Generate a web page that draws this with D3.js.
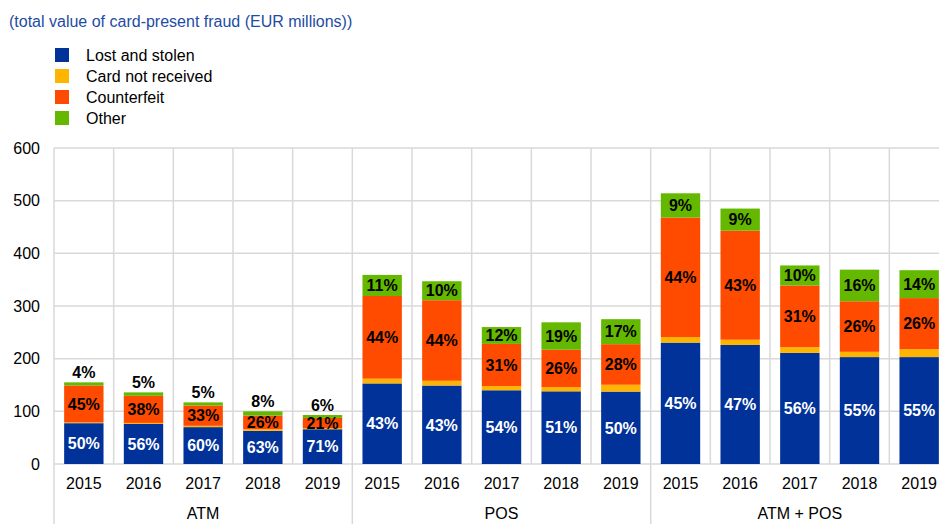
<!DOCTYPE html>
<script src="https://cdn.jsdelivr.net/npm/d3@7"></script>
<html>
    <head>
        <style>
            body { margin: 0; background: #fff; }
            text { font-family: Arial, "Liberation Sans", sans-serif; }
        </style>
    </head>
    <body>
        <div id="chart-div"></div>
        <script>
            // chart data (EUR millions)
            const groups = ["ATM", "POS", "ATM + POS"];
            const years = ["2015", "2016", "2017", "2018", "2019"];
            const seriesNames = ["Lost and stolen", "Card not received", "Counterfeit", "Other"];
            const seriesColors = ["#003299", "#ffb400", "#ff4b00", "#65b800"];

            const lostStolen = [77.5, 76, 70, 63, 66, 153, 149, 140, 138, 137.5, 230.5, 226, 211, 203, 203];
            const cardNotReceived = [1.5, 2, 2.5, 3, 2, 9, 9, 8, 8, 13, 10.5, 10, 11, 10, 15];
            const counterfeit = [70, 51.5, 38.5, 26, 19.5, 157, 153, 80, 71, 77, 227, 207, 117, 96, 97];
            const other = [6, 6.5, 6, 8, 5.5, 40, 36, 32, 52, 47.5, 46, 42, 38, 60, 53];

            const yTicks = [0, 100, 200, 300, 400, 500, 600];

            const width = 939, height = 531;
            const plot = { left: 54, right: 949, top: 148, bottom: 464 };

            const svg = d3.select("#chart-div")
                .append("svg")
                .attr("width", width)
                .attr("height", height);

            // title
            svg.append("text")
                .attr("x", 9)
                .attr("y", 27)
                .attr("font-size", 16)
                .attr("fill", "#1d4ca4")
                .text("(total value of card-present fraud (EUR millions))");

            // legend
            const legend = svg.append("g");
            seriesNames.forEach(function (name, i) {
                legend.append("rect")
                    .attr("x", 55)
                    .attr("y", 48 + i * 21)
                    .attr("width", 14)
                    .attr("height", 14)
                    .attr("fill", seriesColors[i]);
                legend.append("text")
                    .attr("x", 86)
                    .attr("y", 55 + i * 21)
                    .attr("dy", "0.36em")
                    .attr("font-size", 16)
                    .attr("fill", "#000")
                    .text(name);
            });

            // one slot per group/year
            const slots = [];
            groups.forEach(function (g) {
                years.forEach(function (y) { slots.push(g + "|" + y); });
            });

            const data = slots.map(function (s, i) {
                return {
                    key: s,
                    year: s.split("|")[1],
                    values: [lostStolen[i], cardNotReceived[i], counterfeit[i], other[i]]
                };
            });

            const xSlot = d3.scaleBand().domain(slots).range([plot.left, plot.right]);
            const x = d3.scaleBand().domain(slots).range([plot.left, plot.right])
                .paddingInner(0.34).paddingOuter(0.17);
            const y = d3.scaleLinear().domain([0, 600]).range([plot.bottom, plot.top]);

            const gridColor = "#d9d9d9";

            // horizontal grid
            svg.append("g").selectAll("line")
                .data(yTicks)
                .enter()
                .append("line")
                .attr("x1", plot.left)
                .attr("x2", plot.right)
                .attr("y1", function (d) { return y(d); })
                .attr("y2", function (d) { return y(d); })
                .attr("stroke", gridColor)
                .attr("stroke-width", 1.5);

            // vertical grid (year separators stop at the axis, group separators go down)
            const sepX = d3.range(slots.length + 1).map(function (i) { return plot.left + i * xSlot.step(); });
            svg.append("g").selectAll("line")
                .data(sepX)
                .enter()
                .append("line")
                .attr("x1", function (d) { return d; })
                .attr("x2", function (d) { return d; })
                .attr("y1", plot.top)
                .attr("y2", function (d, i) { return i % years.length === 0 ? 524 : plot.bottom; })
                .attr("stroke", gridColor)
                .attr("stroke-width", 1.5);

            // y axis labels
            svg.append("g").selectAll("text")
                .data(yTicks)
                .enter()
                .append("text")
                .attr("x", 40)
                .attr("y", function (d) { return y(d); })
                .attr("dy", "0.36em")
                .attr("text-anchor", "end")
                .attr("font-size", 16)
                .attr("fill", "#000")
                .text(function (d) { return d; });

            // stacked bars
            const stack = d3.stack().keys([0, 1, 2, 3]).value(function (d, k) { return d.values[k]; });
            const layers = stack(data);

            svg.append("g").selectAll("g")
                .data(layers)
                .enter()
                .append("g")
                .attr("fill", function (d, i) { return seriesColors[i]; })
                .selectAll("rect")
                .data(function (d) { return d; })
                .enter()
                .append("rect")
                .attr("x", function (d) { return x(d.data.key); })
                .attr("y", function (d) { return y(d[1]); })
                .attr("width", x.bandwidth())
                .attr("height", function (d) { return y(d[0]) - y(d[1]); });

            // percentage labels (lost, counterfeit, other)
            const labels = svg.append("g")
                .attr("font-size", 16)
                .attr("font-weight", "bold")
                .attr("text-anchor", "middle");

            [0, 2, 3].forEach(function (k) {
                layers[k].forEach(function (seg) {
                    const total = d3.sum(seg.data.values);
                    const pct = Math.round(seg.data.values[k] / total * 100) + "%";
                    const cx = x(seg.data.key) + x.bandwidth() / 2;
                    const h = y(seg[0]) - y(seg[1]);
                    let cy = (y(seg[0]) + y(seg[1])) / 2;
                    if (k === 3 && h < 16) cy = y(total) - 10;
                    labels.append("text")
                        .attr("x", cx)
                        .attr("y", cy)
                        .attr("dy", "0.36em")
                        .attr("fill", k === 0 ? "#fff" : "#000")
                        .text(pct);
                });
            });

            // x axis labels
            svg.append("g").selectAll("text")
                .data(data)
                .enter()
                .append("text")
                .attr("x", function (d) { return xSlot(d.key) + xSlot.bandwidth() / 2; })
                .attr("y", 483)
                .attr("dy", "0.36em")
                .attr("text-anchor", "middle")
                .attr("font-size", 16)
                .attr("fill", "#000")
                .text(function (d) { return d.year; });

            svg.append("g").selectAll("text")
                .data(groups)
                .enter()
                .append("text")
                .attr("x", function (d, i) { return plot.left + (i * years.length + years.length / 2) * xSlot.step(); })
                .attr("y", 513)
                .attr("dy", "0.36em")
                .attr("text-anchor", "middle")
                .attr("font-size", 16)
                .attr("fill", "#000")
                .text(function (d) { return d; });
        </script>
    </body>
</html>
